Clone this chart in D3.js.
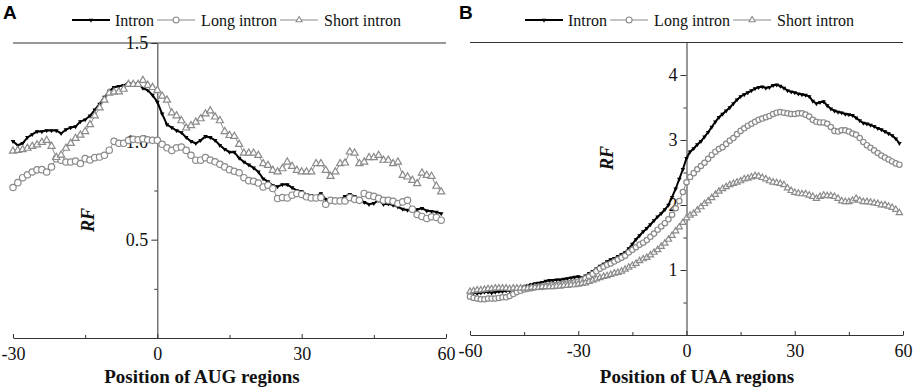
<!DOCTYPE html>
<html>
<head>
<meta charset="utf-8">
<script src="https://cdn.jsdelivr.net/npm/d3@7"></script>
<style>
  body { margin: 0; background: #fff; }
  svg { display: block; }
</style>
</head>
<body>
<script>

// series names
let seriesNames = ['Intron', 'Long intron', 'Short intron'];

// RF around AUG, positions -30..59
let augIntron = [
  1.0, 0.98, 0.99, 1.02, 1.035, 1.05, 1.05, 1.055, 1.055, 1.055,
  1.04, 1.06, 1.07, 1.075, 1.10, 1.11, 1.13, 1.16, 1.19, 1.225,
  1.255, 1.275, 1.28, 1.285, 1.295, 1.29, 1.295, 1.27, 1.26, 1.235,
  1.20, 1.14, 1.085, 1.07, 1.055, 1.045, 1.02, 1.0, 0.99, 1.005,
  1.025, 1.02, 1.005, 0.98, 0.96, 0.945, 0.945, 0.915, 0.895, 0.88,
  0.865, 0.845, 0.81, 0.795, 0.775, 0.77, 0.78, 0.78, 0.765, 0.75,
  0.745, 0.73, 0.725, 0.718, 0.735, 0.705, 0.695, 0.692, 0.702, 0.72,
  0.73, 0.72, 0.706, 0.69, 0.68, 0.685, 0.70, 0.68, 0.682, 0.676,
  0.667, 0.655, 0.65, 0.652, 0.653, 0.66, 0.647, 0.644, 0.64, 0.633
];
let augLong = [
  0.765, 0.79, 0.815, 0.83, 0.844, 0.855, 0.856, 0.844, 0.87, 0.912,
  0.904, 0.895, 0.895, 0.90, 0.887, 0.912, 0.905, 0.917, 0.92, 0.929,
  0.955, 1.0, 0.99, 0.99, 1.005, 1.01, 1.008, 1.013, 1.008, 1.005,
  1.005, 0.985, 0.967, 0.954, 0.967, 0.971, 0.954, 0.929, 0.904, 0.904,
  0.917, 0.905, 0.896, 0.883, 0.87, 0.856, 0.848, 0.84, 0.815, 0.80,
  0.797, 0.788, 0.768, 0.777, 0.76, 0.709, 0.714, 0.712, 0.726, 0.735,
  0.73, 0.718, 0.712, 0.712, 0.714, 0.68, 0.70, 0.697, 0.697, 0.697,
  0.714, 0.705, 0.70, 0.735, 0.725, 0.72, 0.71, 0.70, 0.70, 0.695,
  0.684, 0.692, 0.70, 0.655, 0.628, 0.618, 0.608, 0.616, 0.613, 0.599
];
let augShort = [
  0.95, 0.954, 0.958, 0.965, 0.975, 0.982, 0.995, 1.005, 0.975, 0.918,
  0.93, 0.965, 0.99, 1.015, 1.032, 1.05, 1.085, 1.13, 1.17, 1.21,
  1.245, 1.25, 1.252, 1.265, 1.29, 1.29, 1.29, 1.31, 1.285, 1.274,
  1.26, 1.23, 1.21, 1.145, 1.13, 1.105, 1.068, 1.08, 1.098, 1.115,
  1.14, 1.155, 1.124, 1.105, 1.05, 1.03, 1.025, 0.985, 0.94, 0.94,
  0.94, 0.929, 0.887, 0.878, 0.853, 0.845, 0.861, 0.895, 0.873, 0.853,
  0.845, 0.845, 0.845, 0.887, 0.887, 0.853, 0.822, 0.845, 0.887, 0.89,
  0.946, 0.94, 0.887, 0.895, 0.917, 0.917, 0.929, 0.904, 0.904, 0.887,
  0.895, 0.827, 0.819, 0.802, 0.785, 0.839, 0.827, 0.822, 0.772, 0.743
];

// RF around UAA, positions -60..59
let uaaIntron = [
  0.64, 0.65, 0.64, 0.65, 0.66, 0.66, 0.65, 0.66, 0.67, 0.67,
  0.68, 0.68, 0.69, 0.71, 0.72, 0.74, 0.76, 0.78, 0.79, 0.80,
  0.81, 0.83, 0.84, 0.84, 0.85, 0.85, 0.86, 0.87, 0.88, 0.89,
  0.90, 0.88, 0.91, 0.95, 0.98, 1.02, 1.06, 1.09, 1.13, 1.16,
  1.18, 1.21, 1.24, 1.27, 1.33, 1.40, 1.47, 1.53, 1.59, 1.64,
  1.70, 1.76, 1.82, 1.87, 1.93, 2.0, 2.12, 2.25, 2.40, 2.55,
  2.72, 2.82, 2.87, 2.93, 2.98, 3.05, 3.12, 3.20, 3.28, 3.35,
  3.40, 3.45, 3.50, 3.56, 3.62, 3.67, 3.70, 3.73, 3.76, 3.79,
  3.81, 3.82, 3.80, 3.81, 3.84, 3.85, 3.83, 3.80, 3.76, 3.74,
  3.73, 3.71, 3.70, 3.69, 3.67, 3.60, 3.56, 3.58, 3.59, 3.53,
  3.48, 3.45, 3.43, 3.42, 3.40, 3.39, 3.38, 3.34, 3.30, 3.26,
  3.25, 3.23, 3.21, 3.18, 3.16, 3.13, 3.10, 3.07, 3.02, 2.95
];
let uaaLong = [
  0.59, 0.57, 0.56, 0.55, 0.55, 0.56, 0.56, 0.56, 0.57, 0.58,
  0.58, 0.60, 0.63, 0.66, 0.68, 0.70, 0.71, 0.72, 0.73, 0.74,
  0.74, 0.75, 0.76, 0.77, 0.77, 0.78, 0.79, 0.79, 0.80, 0.81,
  0.82, 0.84, 0.87, 0.90, 0.94, 0.98, 1.02, 1.05, 1.08, 1.10,
  1.13, 1.16, 1.19, 1.22, 1.27, 1.31, 1.35, 1.39, 1.42, 1.46,
  1.51, 1.56, 1.62, 1.67, 1.72, 1.78, 1.85, 1.95, 2.06, 2.20,
  2.35, 2.43, 2.49, 2.55, 2.60, 2.65, 2.71, 2.77, 2.82, 2.86,
  2.89, 2.94, 2.99, 3.03, 3.09, 3.14, 3.18, 3.22, 3.25, 3.28,
  3.31, 3.33, 3.35, 3.37, 3.40, 3.42, 3.43, 3.42, 3.41, 3.40,
  3.40, 3.41, 3.41, 3.39, 3.36, 3.31, 3.28, 3.27, 3.27, 3.25,
  3.20, 3.14, 3.13, 3.15, 3.15, 3.13, 3.10, 3.08, 3.03, 2.97,
  2.92, 2.88, 2.84, 2.80, 2.76, 2.73, 2.70, 2.67, 2.64, 2.62
];
let uaaShort = [
  0.67, 0.68, 0.69, 0.69, 0.70, 0.71, 0.71, 0.72, 0.72, 0.72,
  0.72, 0.71, 0.72, 0.72, 0.72, 0.72, 0.72, 0.73, 0.73, 0.73,
  0.74, 0.74, 0.74, 0.74, 0.75, 0.75, 0.76, 0.76, 0.77, 0.77,
  0.78, 0.79, 0.80, 0.82, 0.84, 0.86, 0.88, 0.90, 0.91, 0.93,
  0.95, 0.96, 0.98, 1.01, 1.04, 1.07, 1.10, 1.14, 1.17, 1.19,
  1.23, 1.27, 1.31, 1.36, 1.41, 1.47, 1.53, 1.60, 1.66, 1.73,
  1.80, 1.84, 1.87, 1.92, 1.97, 2.02, 2.06, 2.11, 2.16, 2.21,
  2.25, 2.28, 2.31, 2.33, 2.35, 2.37, 2.40, 2.41, 2.43, 2.45,
  2.44, 2.42, 2.40, 2.37, 2.35, 2.34, 2.33, 2.31, 2.26, 2.22,
  2.19, 2.18, 2.17, 2.17, 2.15, 2.13, 2.10, 2.13, 2.15, 2.14,
  2.14, 2.13, 2.10, 2.06, 2.05, 2.05, 2.07, 2.10, 2.07, 2.05,
  2.05, 2.04, 2.03, 2.02, 2.00, 2.00, 1.98, 1.96, 1.93, 1.88
];

let augPos = d3.range(-30, 60);
let uaaPos = d3.range(-60, 60);

let gray = '#8a8a8a';
let serif = '"Liberation Serif", "Times New Roman", serif';

let svg = d3.select('body').append('svg')
    .attr('width', 913)
    .attr('height', 389);

function drawPanel(p) {
    let x = d3.scaleLinear().domain(p.xDomain).range(p.xRange);
    let y = d3.scaleLinear().domain(p.yDomain).range(p.yRange);
    let g = svg.append('g');

    // top frame line
    g.append('line')
        .attr('x1', p.xRange[0]).attr('x2', p.xRange[1])
        .attr('y1', y(p.yDomain[1])).attr('y2', y(p.yDomain[1]))
        .attr('stroke', '#333').attr('stroke-width', 1);

    // bottom axis, plain hyphen for negatives
    g.append('g')
        .attr('transform', `translate(0,${y(0)})`)
        .call(d3.axisBottom(x).tickValues(p.xTicks).tickSize(-4).tickSizeOuter(0).tickPadding(9)
            .tickFormat(d => String(d)));
    g.append('g')
        .attr('transform', `translate(0,${y(0)})`)
        .call(d3.axisBottom(x).tickValues(p.xMinor).tickSize(-3).tickFormat(''))
        .select('.domain').remove();

    // y axis through 0
    g.append('g')
        .attr('transform', `translate(${x(0)},0)`)
        .call(d3.axisLeft(y).tickValues(p.yTicks).tickSize(6).tickSizeOuter(0).tickPadding(3).tickFormat(p.yFormat));
    g.append('g')
        .attr('transform', `translate(${x(0)},0)`)
        .call(d3.axisLeft(y).tickValues(p.yMinor).tickSize(3).tickFormat(''))
        .select('.domain').remove();

    g.selectAll('.domain, .tick line').attr('stroke', '#333');
    g.selectAll('.tick text')
        .attr('font-family', serif)
        .attr('font-size', '18px')
        .attr('fill', '#111');

    // axis titles
    g.append('text')
        .attr('x', p.xTitleX).attr('y', 383)
        .attr('text-anchor', 'middle')
        .attr('font-family', serif).attr('font-weight', 'bold').attr('font-size', '19px')
        .attr('fill', '#111')
        .text(p.xTitle);

    g.append('text')
        .attr('transform', `translate(${p.rfX},${p.rfY}) rotate(-90)`)
        .attr('text-anchor', 'middle')
        .attr('font-family', serif).attr('font-weight', 'bold').attr('font-style', 'italic')
        .attr('font-size', '18px').attr('fill', '#111')
        .text('RF');

    // panel letter
    g.append('text')
        .attr('x', p.letterX).attr('y', 19)
        .attr('font-family', '"Liberation Sans", Arial, sans-serif')
        .attr('font-weight', 'bold').attr('font-size', '19px')
        .text(p.letter);

    let line = d3.line().x((d, i) => x(p.pos[i])).y(d => y(d));

    // Intron: black line with small down triangles
    g.append('path').datum(p.intron)
        .attr('d', line).attr('fill', 'none')
        .attr('stroke', '#000').attr('stroke-width', 2);
    g.selectAll('path.intronMark').data(p.intron).enter().append('path')
        .attr('class', 'intronMark')
        .attr('d', d3.symbol(d3.symbolTriangle, 9))
        .attr('transform', (d, i) => `translate(${x(p.pos[i])},${y(d)}) rotate(180)`)
        .attr('fill', '#000');

    // Long intron: gray open circles
    g.append('path').datum(p.long)
        .attr('d', line).attr('fill', 'none')
        .attr('stroke', gray).attr('stroke-width', 1);
    g.selectAll('circle.longMark').data(p.long).enter().append('circle')
        .attr('class', 'longMark')
        .attr('cx', (d, i) => x(p.pos[i]))
        .attr('cy', d => y(d))
        .attr('r', p.circleR)
        .attr('fill', '#fff')
        .attr('stroke', gray).attr('stroke-width', 1.2);

    // Short intron: gray open triangles
    g.append('path').datum(p.short)
        .attr('d', line).attr('fill', 'none')
        .attr('stroke', gray).attr('stroke-width', 1);
    g.selectAll('path.shortMark').data(p.short).enter().append('path')
        .attr('class', 'shortMark')
        .attr('d', d3.symbol(d3.symbolTriangle, p.triSize))
        .attr('transform', (d, i) => `translate(${x(p.pos[i])},${y(d)})`)
        .attr('fill', '#fff')
        .attr('stroke', gray).attr('stroke-width', 1.2);

    // legend
    let lg = g.append('g').attr('transform', `translate(${p.legendX},20)`);
    let cx = 0;
    seriesNames.forEach((name, k) => {
        let len = 38;
        lg.append('line')
            .attr('x1', cx).attr('x2', cx + len).attr('y1', 0).attr('y2', 0)
            .attr('stroke', k === 0 ? '#000' : gray)
            .attr('stroke-width', k === 0 ? 2 : 1);
        let mx = cx + len / 2;
        if (k === 0) {
            lg.append('path').attr('d', d3.symbol(d3.symbolTriangle, 9))
                .attr('transform', `translate(${mx},0) rotate(180)`).attr('fill', '#000');
        } else if (k === 1) {
            lg.append('circle').attr('cx', mx).attr('cy', 0).attr('r', 3)
                .attr('fill', '#fff').attr('stroke', gray).attr('stroke-width', 1.1);
        } else {
            lg.append('path').attr('d', d3.symbol(d3.symbolTriangle, 16))
                .attr('transform', `translate(${mx},0)`)
                .attr('fill', '#fff').attr('stroke', gray).attr('stroke-width', 1.1);
        }
        cx += len + (k === 0 ? 5 : 6);
        let t = lg.append('text')
            .attr('x', cx).attr('y', 5.5)
            .attr('font-family', serif).attr('font-size', '16px').attr('fill', '#111')
            .text(name);
        cx += t.node().getComputedTextLength() + 3;
    });
}

drawPanel({
    letter: 'A', letterX: 3,
    pos: augPos, intron: augIntron, long: augLong, short: augShort,
    xDomain: [-30, 60], xRange: [13, 446],
    yDomain: [0, 1.5], yRange: [338, 43],
    xTicks: [-30, 0, 30, 60], xMinor: [-15, 15, 45],
    yTicks: [0.5, 1.0, 1.5], yMinor: [0.25, 0.75, 1.25],
    yFormat: d3.format('.1f'),
    xTitle: 'Position of AUG regions', xTitleX: 202,
    rfX: 94, rfY: 220,
    legendX: 72,
    circleR: 3.2, triSize: 22
});

drawPanel({
    letter: 'B', letterX: 459,
    pos: uaaPos, intron: uaaIntron, long: uaaLong, short: uaaShort,
    xDomain: [-60, 60], xRange: [470, 903],
    yDomain: [0, 4.5], yRange: [335, 42.5],
    xTicks: [-60, -30, 0, 30, 60], xMinor: [-45, -15, 15, 45],
    yTicks: [1, 2, 3, 4], yMinor: [0.5, 1.5, 2.5, 3.5],
    yFormat: d3.format('d'),
    xTitle: 'Position of UAA regions', xTitleX: 697,
    rfX: 613, rfY: 158,
    legendX: 525,
    circleR: 2.7, triSize: 17
});

</script>
</body>
</html>
